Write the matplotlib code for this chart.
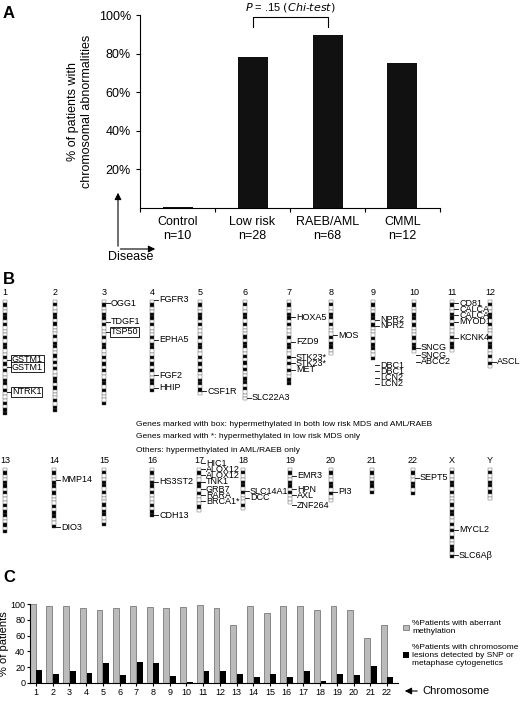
import numpy as np
import matplotlib.pyplot as plt
from matplotlib.patches import Rectangle

W, H = 520, 701

# panel A
groups = ["Control\nn=10", "Low risk\nn=28", "RAEB/AML\nn=68", "CMML\nn=12"]
abnormal_pct = [0.4, 78, 89.5, 75]

# panel C
chrom_nums = list(range(1, 23))
methyl_pct = [100, 98, 98, 95, 93, 95, 98, 96, 95, 96, 99, 95, 74, 98, 88, 97, 97, 92, 98, 92, 57, 73]
lesion_pct = [17, 12, 15, 13, 25, 10, 26, 25, 9, 1.5, 15, 15, 12, 8, 11, 8, 15, 3, 11, 10, 21, 8]

# panel B: chromosome name, x, top, bottom (pixels)
chroms = [("1", 5, 300, 415), ("2", 55, 300, 412), ("3", 104, 300, 405), ("4", 152, 300, 392),
          ("5", 200, 300, 395), ("6", 245, 300, 400), ("7", 289, 300, 385), ("8", 331, 300, 355),
          ("9", 373, 300, 360), ("10", 414, 300, 353), ("11", 452, 300, 352), ("12", 490, 300, 368),
          ("13", 5, 468, 533), ("14", 54, 468, 528), ("15", 104, 468, 526), ("16", 152, 468, 517),
          ("17", 199, 468, 512), ("18", 243, 468, 510), ("19", 290, 468, 504), ("20", 331, 468, 502),
          ("21", 372, 468, 494), ("22", 413, 468, 495), ("X", 452, 468, 558), ("Y", 490, 468, 500)]
genes = [("1", 360, "GSTM1", True), ("1", 367, "GSTM1", True), ("1", 392, "NTRK1", True),
         ("3", 303, "OGG1", False), ("3", 322, "TDGF1", False), ("3", 332, "TSP50", True),
         ("4", 300, "FGFR3", False), ("4", 340, "EPHA5", False), ("4", 375, "FGF2", False),
         ("4", 388, "HHIP", False), ("5", 391, "CSF1R", False), ("6", 398, "SLC22A3", False),
         ("7", 317, "HOXA5", False), ("7", 342, "FZD9", False), ("7", 357, "STK23*", False),
         ("7", 363, "STK23*", False), ("7", 370, "MET", False), ("8", 335, "MOS", False),
         ("9", 320, "NPR2", False), ("9", 326, "NPR2", False), ("9", 365, "DBC1", False),
         ("9", 371, "DBC1", False), ("9", 378, "LCN2", False), ("9", 384, "LCN2", False),
         ("10", 348, "SNCG", False), ("10", 355, "SNCG", False), ("10", 362, "ABCC2", False),
         ("11", 303, "CD81", False), ("11", 309, "CALCA", False), ("11", 315, "CALCA", False),
         ("11", 322, "MYOD1", False), ("11", 338, "KCNK4", False), ("12", 362, "ASCL1", False),
         ("14", 480, "MMP14", False), ("14", 527, "DIO3", False), ("16", 482, "HS3ST2", False),
         ("16", 515, "CDH13", False), ("17", 463, "HIC1", False), ("17", 469, "ALOX12", False),
         ("17", 475, "ALOX12", False), ("17", 482, "TNK1", False), ("17", 489, "GRB7", False),
         ("17", 495, "RARA", False), ("17", 501, "BRCA1*", False), ("18", 491, "SLC14A1", False),
         ("18", 498, "DCC", False), ("19", 476, "EMR3", False), ("19", 489, "HPN", False),
         ("19", 495, "AXL", False), ("19", 505, "ZNF264", False), ("20", 492, "PI3", False),
         ("22", 478, "SEPT5", False), ("X", 530, "MYCL2", False), ("X", 555, "SLC6A\u03b2", False)]
band_pattern = [0, 1, 0, 0, 1, 1, 0, 1, 0, 0, 0, 1, 0, 1, 1, 0, 0, 1, 0, 1]

plt.rcParams['font.family'] = ['Liberation Sans', 'DejaVu Sans']
fig = plt.figure(figsize=(W / 100, H / 100), dpi=100)

def fx(px):
    return px / W

def fy(py):
    return 1 - py / H

# ---- A
axA = fig.add_axes([fx(140), fy(208), fx(300), fy(15) - fy(208)])
axA.bar(range(4), abnormal_pct, width=0.4, color='#111111')
axA.set_xlim(-0.49, 3.49)
axA.set_ylim(0, 100)
axA.set_yticks([20, 40, 60, 80, 100])
axA.set_yticklabels(["20%", "40%", "60%", "80%", "100%"], fontsize=9)
axA.set_xticks([-0.5, 0.5, 1.5, 2.5, 3.5])
axA.set_xticklabels([])
axA.tick_params(length=3)
for s in ['top', 'right']:
    axA.spines[s].set_visible(False)
for i, g in enumerate(groups):
    axA.text(i, -4, g, ha='center', va='top', fontsize=9)
axA.set_ylabel("% of patients with\nchromosomal abnormalities", fontsize=9)
axA.plot([1, 1, 2, 2], [94, 99, 99, 94], color='black', lw=0.8, clip_on=False)
axA.text(1.5, 100.5, "$P$ = .15 $(Chi$-$test)$", ha='center', va='bottom', fontsize=8)

# ---- B (pixel overlay)
ax = fig.add_axes([0, 0, 1, 1])
ax.set_xlim(0, W)
ax.set_ylim(H, 0)
ax.axis('off')
ax.text(3, 13, "A", fontsize=12, fontweight='bold', va='center')
ax.text(3, 280, "B", fontsize=12, fontweight='bold', va='center')
ax.text(3, 578, "C", fontsize=12, fontweight='bold', va='center')
ax.annotate("", xy=(118, 190), xytext=(118, 249), arrowprops=dict(arrowstyle='-|>', color='black', lw=0.8))
ax.annotate("", xy=(158, 249), xytext=(117.6, 249), arrowprops=dict(arrowstyle='-|>', color='black', lw=0.8))
ax.text(108, 251, "Disease", fontsize=9, va='top')

xpos = {}
for name, x, top, bot in chroms:
    xpos[name] = x
    ax.text(x, top - 3, name, fontsize=6.5, ha='center', va='bottom')
    n = int((bot - top) / 3.2)
    seg = (bot - top) / n
    for k in range(n):
        c = 'black' if band_pattern[k % len(band_pattern)] else 'white'
        ax.add_patch(Rectangle((x - 2, top + k * seg), 4, seg, fc=c, ec='#555555', lw=0.3))
for name, y, label, box in genes:
    x = xpos[name] + 2
    ax.plot([x, x + 4], [y, y], color='black', lw=0.6)
    kw = dict(boxstyle='square,pad=0.1', fc='white', ec='black', lw=0.6) if box else None
    ax.text(x + 5, y, label, fontsize=6.5, va='center', bbox=kw)
for i, t in enumerate(["Genes marked with box: hypermethylated in both low risk MDS and AML/RAEB",
                       "Genes marked with *: hypermethylated in low risk MDS only",
                       "Others: hypermethylated in AML/RAEB only"]):
    ax.text(136, 424 + i * 13, t, fontsize=6, va='center')

# ---- C
axC = fig.add_axes([fx(30), fy(683), fx(368), fy(604) - fy(683)])
xs = np.array(chrom_nums)
axC.bar(xs - 0.2, methyl_pct, width=0.35, color='#bbbbbb', edgecolor='#666666', lw=0.5,
        label="%Patients with aberrant\nmethylation")
axC.bar(xs + 0.2, lesion_pct, width=0.35, color='black',
        label="%Patients with chromosome\nlesions detected by SNP or\nmetaphase cytogenetics")
axC.set_xlim(0.64, 22.66)
axC.set_ylim(0, 100)
axC.set_yticks([0, 20, 40, 60, 80, 100])
axC.set_xticks(xs)
axC.tick_params(labelsize=6.5, length=2, pad=1.5)
axC.set_ylabel("% of patients", fontsize=8, labelpad=1)
for s in ['top', 'right']:
    axC.spines[s].set_visible(False)
axC.legend(loc='center left', bbox_to_anchor=(1.0, 0.5), frameon=False, fontsize=6,
           handlelength=0.7, handleheight=0.7, labelspacing=1.0, handletextpad=0.4,
           borderaxespad=0.2)
ax.annotate("", xy=(402, 691), xytext=(420, 691), arrowprops=dict(arrowstyle='-|>', color='black', lw=0.8))
ax.text(422, 691, "Chromosome", fontsize=8, va='center')

fig.savefig("out.png", dpi=100)
